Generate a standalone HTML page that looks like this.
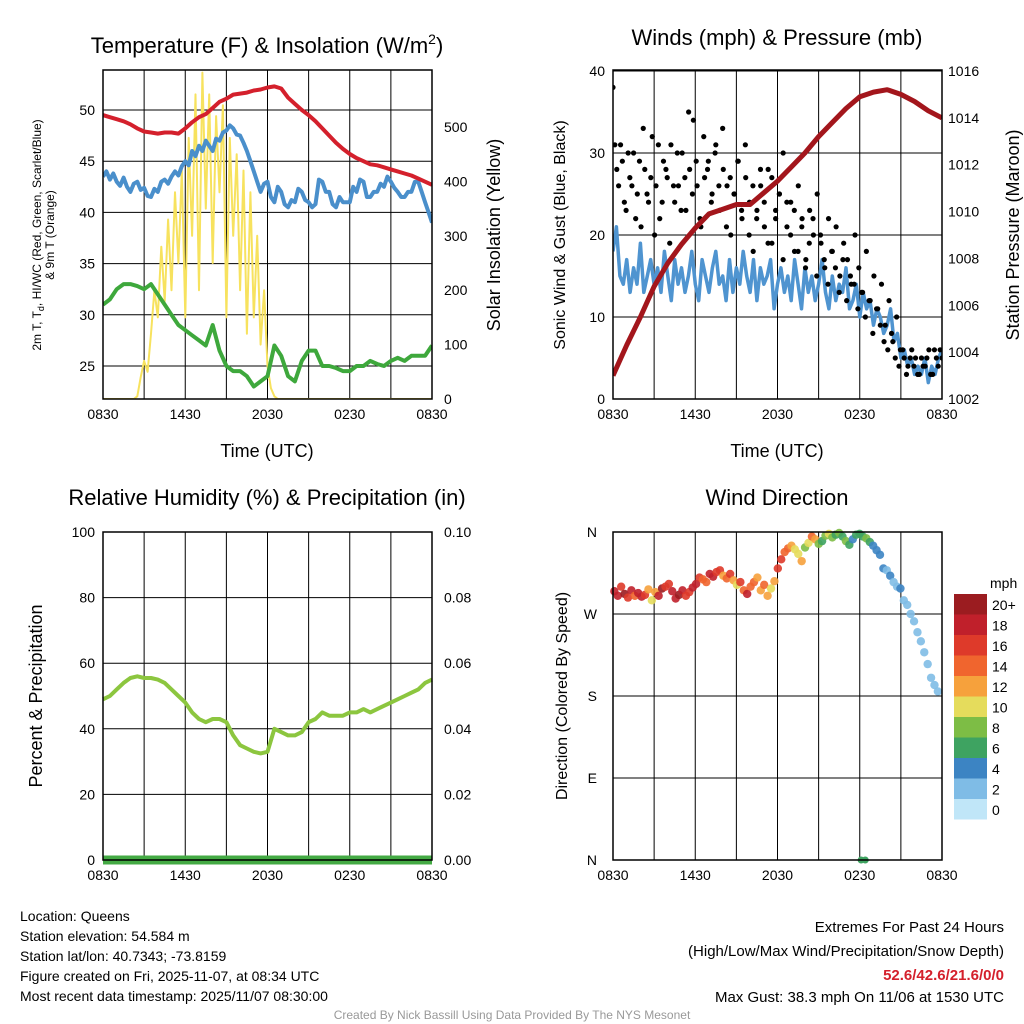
<!DOCTYPE html>
<html><head><meta charset="utf-8"><style>
body{margin:0;background:#fff;}
svg{display:block;font-family:"Liberation Sans",sans-serif;}
</style></head><body>
<svg id="s" width="1024" height="1024" viewBox="0 0 1024 1024"></svg>
<script>
// ---------- data ----------
const timeTicks=["0830","1430","2030","0230","0830"];
const tempRed=[49.5,49.3,49.1,48.9,48.6,48.2,47.9,47.8,47.7,47.8,47.8,47.7,48.2,48.8,49.3,49.6,50.2,50.8,51.1,51.5,51.6,51.7,51.9,52.0,52.2,52.3,52.1,51.2,50.6,50.0,49.5,48.9,48.2,47.5,46.8,46.2,45.7,45.3,45.0,44.7,44.6,44.4,44.2,44.0,43.8,43.6,43.3,43.0,42.7];
const tempBlue=[43.5,44,43.2,43.8,43,42.6,43.4,42.5,42,42.8,43,42.2,42.4,41.6,41.5,42.3,42,43,43.2,42.8,43.5,44,43.6,44.5,45,44.6,46,45.5,46.5,46,47,46.5,46,47.2,47,47.8,48,48.5,48.2,47.6,47.5,46.8,46,45,44,43,42,42.8,43,41.5,41,42.5,42,40.8,40.5,41.2,41,42.3,42,41.2,41,40.5,40.8,43.2,43,42,42,40.8,40.5,41.5,41,41,41,42.5,42,43.2,43,41.5,41.5,42,42,42.8,42.5,43.5,43,42.4,42,41.5,41.5,42,42,43,43,42,41,40,39];
const tempGreen=[31.0,31.5,32.5,33.0,33.0,32.8,32.5,33.0,32.0,31.0,30.0,29.0,28.5,28.0,27.5,27.0,29.0,26.5,25.0,24.5,24.5,24.0,23.0,23.5,24.0,27.0,26.0,24.0,23.5,25.5,26.5,26.5,25.0,25.0,24.8,24.5,24.5,25.0,25.0,25.5,25.2,25.0,25.5,25.8,25.5,26.0,26.0,26.0,27.0];
// solar every 15 min from 0830 (97 values)
const solar=[0,0,0,0,0,0,0,0,0,0,5,40,70,50,120,200,150,280,180,330,200,380,250,420,150,480,300,560,200,600,350,560,250,520,380,540,150,480,300,450,200,420,120,380,150,300,100,200,60,20,5,0,0,0,0,0,0,0,0,0,0,0,0,0,0,0,0,0,0,0,0,0,0,0,0,0,0,0,0,0,0,0,0,0,0,0,0,0,0,0,0,0,0,0,0,0,0];
const windSpd=[18,21,15,14,17,13,16,14,19,13,15,17,14,16,13,18,15,12,17,14,16,13,15,18,14,12,17,15,13,16,18,14,15,12,17,13,16,14,18,15,13,17,12,16,14,15,17,11,14,16,13,15,12,17,14,11,16,13,15,12,14,17,13,11,15,12,14,13,16,11,12,14,10,13,11,12,9,11,10,8,9,11,7,8,5,6,4,5,3,4,3,5,2,4,3,5,6];
const pressure=[1003,1004.3,1005.5,1006.8,1007.8,1008.6,1009.3,1009.9,1010.1,1010.3,1010.3,1010.8,1011.3,1011.9,1012.5,1013.2,1013.8,1014.4,1014.9,1015.1,1015.2,1015.0,1014.7,1014.3,1014.0];
const gusts=[38,28,31,24,30,26,22,29,33,25,27,20,31,24,28,19,26,30,23,27,35,25,29,22,32,28,24,30,26,33,21,27,25,29,23,31,20,26,22,28,24,19,27,23,25,30,21,24,18,26,22,17,23,20,25,19,16,22,18,21,15,19,17,14,20,16,13,18,12,15,11,14,9,12,7,10,6,5,4,6,5,3,4,5,3,6,4,5];
const gusts2=[31,26,29,23,27,30,25,21,28,24,32,26,22,29,27,31,24,26,30,23,28,34,26,21,27,29,25,31,23,28,26,20,25,29,22,27,24,18,23,26,21,28,19,22,25,17,24,20,23,18,21,16,19,22,15,20,17,14,18,16,13,17,12,15,14,11,13,10,12,8,11,9,7,6,8,5,4,6,3,5,4,3,5,4,6,3,5,6];
const rh=[49,50,52,54,55.5,56,55.5,55.5,55,54,52,50,48,45,43,42,43,43,42,38,35,34,33,32.5,33,40,39,38,38,39,42,43,45,44,44,44,45,45,46,45,46,47,48,49,50,51,52,54,55];
const wdir=[295,290,300,292,288,296,290,293,289,291,297,285,294,290,298,300,303,295,287,291,296,290,294,299,303,310,308,305,314,311,316,318,312,309,314,307,302,305,296,292,300,305,310,296,302,290,298,306,320,330,338,342,345,341,336,328,343,348,355,352,347,350,356,358,354,357,359,355,350,346,352,357,358,355,353,349,345,340,335,320,318,312,305,300,298,285,280,270,262,250,240,228,215,200,192,185];
const wspd=[18,19,17,20,16,18,15,18,19,17,12,11,13,18,20,17,16,19,18,21,18,16,17,19,18,16,15,14,19,18,17,16,13,14,17,12,11,16,15,18,14,15,13,12,14,12,11,13,16,17,15,14,12,11,10,13,9,10,15,12,8,7,9,10,8,7,9,6,8,7,5,6,7,6,8,6,5,4,4,4,3,4,3,2,4,2,3,2,2,3,2,2,2,3,2,3];
const cbLabels=["20+","18","16","14","12","10","8","6","4","2","0"];
const cbColors=["#9b1c20","#c0202b","#de3a2a","#f0652e","#f6a13c","#e5dc5c","#7dbd45","#3ea361","#3c84c3","#7fbce6","#c0e6f8"];

const NS="http://www.w3.org/2000/svg";
const S=document.getElementById('s');
function el(tag,attrs,parent,txt){const e=document.createElementNS(NS,tag);for(const k in attrs)e.setAttribute(k,attrs[k]);if(txt!==undefined)e.textContent=txt;(parent||S).appendChild(e);return e;}
function lin(d0,d1,r0,r1){return v=>r0+(v-d0)/(d1-d0)*(r1-r0);}
function colorFor(s){let i=Math.min(10,Math.floor(s/2));return cbColors[10-i];}

function panel(name,x0,y0,w,h,vgrid,hgrid){
  const g=el('g',{},S);
  const xs=lin(0,24,x0,x0+w);
  for(let k=0;k<=8;k++){const x=xs(k*3);const l=el('line',{x1:x,x2:x,y1:y0,y2:y0+h,stroke:'#000','stroke-width':1},g);}
  hgrid.forEach(y=>{const l=el('line',{x1:x0,x2:x0+w,y1:y,y2:y,stroke:'#000','stroke-width':1},g);});
  timeTicks.forEach((t,i)=>{const tx=el('text',{x:xs(i*6),y:y0+h+20,'font-size':14,'text-anchor':'middle'},g,t);});
  return {g,xs};
}
function frame(g,x0,y0,w,h){const r=el('rect',{x:x0,y:y0,width:w,height:h,fill:'none',stroke:'#000','stroke-width':1.5},g);}
function path(g,arr,xs,ys,col,wd,name){const n=arr.length;let d='';arr.forEach((v,i)=>{d+=(i?'L':'M')+xs(i*24/(n-1)).toFixed(1)+','+ys(v).toFixed(1);});const p=el('path',{d,fill:'none',stroke:col,'stroke-width':wd,'stroke-linejoin':'round'},g);return p;}
function txt(x,y,s,size,attrs,name,parent){const a=Object.assign({x,y,'font-size':size},attrs||{});const t=el('text',a,parent||S,s);return t;}

// ---------- Panel 1 ----------
{const x0=103,y0=70,w=329,h=329;
const yT=lin(25,50,366,110), yS=lin(0,500,399,127);
const hg=[25,30,35,40,45,50].map(yT);
const {g,xs}=panel('temperature-panel',x0,y0,w,h,null,hg);
const cp=el('clipPath',{id:'c1'},g);el('rect',{x:x0,y:y0,width:w,height:h},cp);
const pg=el('g',{'clip-path':'url(#c1)'},g);
path(pg,solar,xs,yS,'#f7e25e',2,'solar-insolation-line');
path(pg,tempGreen,xs,yT,'#3ea83c',4,'dewpoint-line');
path(pg,tempBlue,xs,yT,'#4a8fcb',4,'heat-index-windchill-line');
path(pg,tempRed,xs,yT,'#d4202c',4,'temperature-line');
frame(g,x0,y0,w,h);
[25,30,35,40,45,50].forEach(v=>txt(x0-8,yT(v)+5,String(v),14,{'text-anchor':'end'},'y-tick-label',g));
[0,100,200,300,400,500].forEach(v=>txt(x0+w+12,yS(v)+5,String(v),14,{},'y2-tick-label',g));
const t=txt(267,53,'Temperature (F) & Insolation (W/m',22,{'text-anchor':'middle'},'panel-title',g);
el('tspan',{dy:-9,'font-size':14},t,'2');el('tspan',{dy:9},t,')');
txt(267,457,'Time (UTC)',18,{'text-anchor':'middle'},'x-axis-title',g);
const yl=txt(0,0,'',12,{transform:'translate(41,235) rotate(-90)','text-anchor':'middle'},'y-axis-title',g);
el('tspan',{x:0,dy:0},yl,'2m T, T');el('tspan',{'font-size':9,dy:3},yl,'d');el('tspan',{dy:-3},yl,', HI/WC (Red, Green, Scarlet/Blue)');
el('tspan',{x:0,dy:13},yl,'& 9m T (Orange)');
txt(0,0,'Solar Insolation (Yellow)',18,{transform:'translate(500,235) rotate(-90)','text-anchor':'middle'},'y2-axis-title',g);
}
// ---------- Panel 2 ----------
{const x0=613,y0=70,w=329,h=329;
const yW=lin(0,40,399,71), yP=lin(1002,1016,399,71);
const {g,xs}=panel('winds-panel',x0,y0,w,h,null,[0,10,20,30,40].map(yW));
const cp=el('clipPath',{id:'c2'},g);el('rect',{x:x0,y:y0,width:w,height:h},cp);
const pg=el('g',{'clip-path':'url(#c2)'},g);
path(pg,windSpd,xs,yW,'#4f94d0',3.5,'sustained-wind-line');
gusts.forEach((v,i)=>{const c=el('circle',{cx:xs(i*24/(gusts.length-1)),cy:yW(v),r:2.6,fill:'#000'},pg);});
gusts2.forEach((v,i)=>{const c=el('circle',{cx:xs((i+0.5)*24/gusts2.length),cy:yW(v),r:2.6,fill:'#000'},pg);});
path(pg,pressure,xs,yP,'#a3161c',5,'pressure-line');
frame(g,x0,y0,w,h);
[0,10,20,30,40].forEach(v=>txt(x0-8,yW(v)+5,String(v),14,{'text-anchor':'end'},'y-tick-label',g));
[1002,1004,1006,1008,1010,1012,1014,1016].forEach(v=>txt(x0+w+6,yP(v)+5,String(v),14,{},'y2-tick-label',g));
txt(777,45,'Winds (mph) & Pressure (mb)',22,{'text-anchor':'middle'},'panel-title',g);
txt(777,457,'Time (UTC)',18,{'text-anchor':'middle'},'x-axis-title',g);
txt(0,0,'Sonic Wind & Gust (Blue, Black)',16,{transform:'translate(565,235) rotate(-90)','text-anchor':'middle'},'y-axis-title',g);
txt(0,0,'Station Pressure (Maroon)',18,{transform:'translate(1019,235) rotate(-90)','text-anchor':'middle'},'y2-axis-title',g);
}
// ---------- Panel 3 ----------
{const x0=103,y0=532,w=329,h=328;
const yR=lin(0,100,860,532);
const {g,xs}=panel('humidity-panel',x0,y0,w,h,null,[0,20,40,60,80,100].map(yR));
path(g,rh,xs,yR,'#8cc63f',4,'relative-humidity-line');
const pr=el('line',{x1:x0,x2:x0+w,y1:860,y2:860,stroke:'#44aa44','stroke-width':9},g);
frame(g,x0,y0,w,h);
[0,20,40,60,80,100].forEach(v=>txt(x0-8,yR(v)+5,String(v),14,{'text-anchor':'end'},'y-tick-label',g));
['0.00','0.02','0.04','0.06','0.08','0.10'].forEach((s,i)=>txt(x0+w+12,yR(i*20)+5,s,14,{},'y2-tick-label',g));
txt(267,505,'Relative Humidity (%) & Precipitation (in)',22,{'text-anchor':'middle'},'panel-title',g);
txt(0,0,'Percent & Precipitation',18,{transform:'translate(42,696) rotate(-90)','text-anchor':'middle'},'y-axis-title',g);
}
// ---------- Panel 4 ----------
{const x0=613,y0=532,w=329,h=328;
const yD=lin(0,360,860,532);
const {g,xs}=panel('wind-direction-panel',x0,y0,w,h,null,[0,90,180,270,360].map(yD));
const n=wdir.length;
wdir.forEach((d,i)=>{const c=el('circle',{cx:xs(i*23.6/(n-1)+0.1),cy:yD(d),r:4.2,fill:colorFor(wspd[i]),'fill-opacity':0.9},g);});
[0,1].forEach(k=>{const c=el('circle',{cx:xs(18.1+k*0.3),cy:yD(0),r:3.5,fill:colorFor(7)},g);});
frame(g,x0,y0,w,h);
['N','E','S','W','N'].forEach((s,i)=>txt(x0-16,yD(i*90)+5,s,14,{'text-anchor':'end'},'y-tick-label',g));
txt(777,505,'Wind Direction',22,{'text-anchor':'middle'},'panel-title',g);
txt(0,0,'Direction (Colored By Speed)',16,{transform:'translate(567,696) rotate(-90)','text-anchor':'middle'},'y-axis-title',g);
const cb=el('g',{},S);
txt(990,588,'mph',14,{},'colorbar-title',cb);
cbColors.forEach((c,i)=>{const r=el('rect',{x:954,y:594+i*20.5,width:33,height:20.5,fill:c},cb);
 txt(992,610+i*20.5,cbLabels[i],14,{},'colorbar-label',cb);});
}
// ---------- footer ----------
const info=["Location: Queens","Station elevation: 54.584 m","Station lat/lon: 40.7343; -73.8159","Figure created on Fri, 2025-11-07, at 08:34 UTC","Most recent data timestamp: 2025/11/07 08:30:00"];
info.forEach((s,i)=>txt(20,921+i*20,s,14,{},'station-info-line'));
txt(1004,932,'Extremes For Past 24 Hours',15,{'text-anchor':'end'},'extremes-title');
txt(1004,956,'(High/Low/Max Wind/Precipitation/Snow Depth)',15,{'text-anchor':'end'},'extremes-subtitle');
txt(1004,980,'52.6/42.6/21.6/0/0',15,{'text-anchor':'end','font-weight':'bold',fill:'#d4202c'},'extremes-values');
txt(1004,1002,'Max Gust: 38.3 mph On 11/06 at 1530 UTC',15,{'text-anchor':'end'},'max-gust');
txt(512,1019,'Created By Nick Bassill Using Data Provided By The NYS Mesonet',12,{'text-anchor':'middle',fill:'#999'},'credit-line');
</script>
</body></html>
